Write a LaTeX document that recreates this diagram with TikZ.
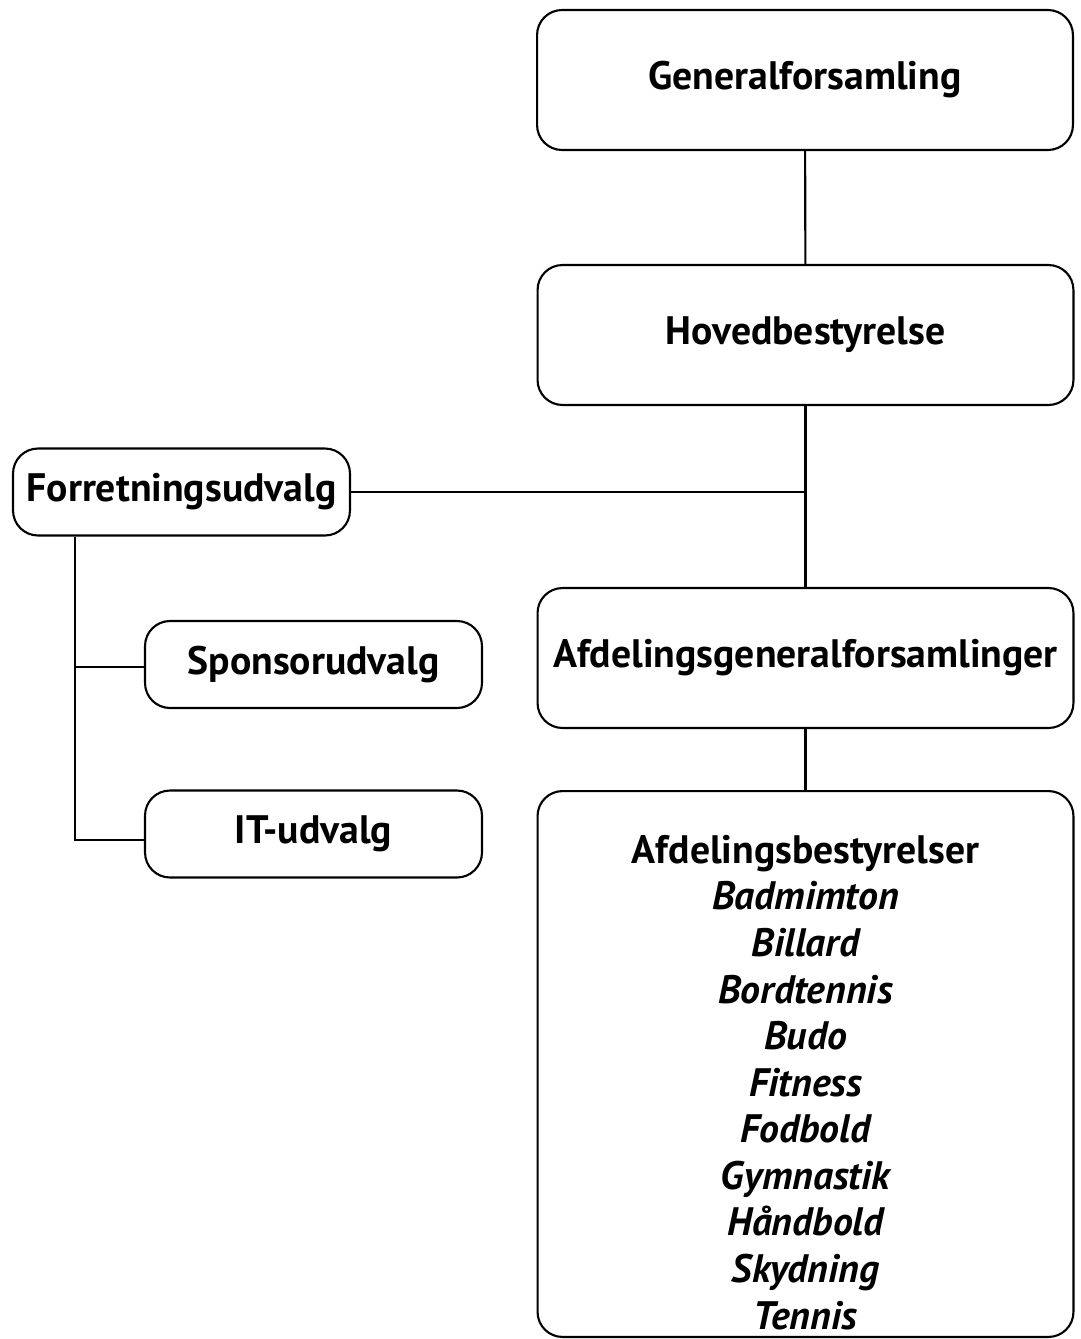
\documentclass[tikz,border=0pt]{standalone}
\usepackage{fontspec}
\setmainfont{PT Sans}
\usepackage{tikz}
\usetikzlibrary{positioning}

\tikzset{
    orgbox/.style={draw, line width=1.2pt, rounded corners=0.5cm, align=center,
        font=\bfseries\fontsize{22.6}{26.5}\selectfont, inner sep=0pt},
    bigbox/.style={orgbox, minimum width=10.72cm, minimum height=2.8cm},
    smallbox/.style={orgbox, minimum width=6.74cm, minimum height=1.74cm},
    link/.style={line width=1.2pt}
}

\begin{document}
\begin{tikzpicture}[x=0.02cm, y=-0.02cm]
    \useasboundingbox (0,0) rectangle (1080,1339);

    \node[bigbox] (genfors) at (805,80) {Generalforsamling};
    \node[bigbox] (hovbest) at (805.5,335) {Hovedbestyrelse};
    \node[bigbox] (afdgen) at (805.5,658) {Afdelingsgeneralforsamlinger};
    \node[bigbox, minimum height=10.92cm] (afdbest) at (805.5,1064)
        {\rule{0pt}{1.3cm}Afdelingsbestyrelser\\ \itshape Badmimton\\ \itshape Billard\\
         \itshape Bordtennis\\ \itshape Budo\\ \itshape Fitness\\
         \itshape Fodbold\\ \itshape Gymnastik\\ \itshape Håndbold\\
         \itshape Skydning\\ \itshape Tennis};

    \node[smallbox] (forret) at (181.5,492) {Forretningsudvalg};
    \node[smallbox] (sponsor) at (313.5,664.5) {Sponsorudvalg};
    \node[smallbox] (itudv) at (313.5,834) {IT-udvalg};

    \coordinate (knude) at (805.5,492);
    \coordinate (venstre) at (75,667);
    \coordinate (venstre2) at (75,840);

    \draw[link] (genfors) -- (hovbest);
    \draw[link] (hovbest) -- (afdgen);
    \draw[link] (afdgen) -- (afdbest);
    \draw[link] (forret.east) -- (knude);
    \draw[link] (forret.south -| venstre) -- (venstre2) -- (venstre2 -| itudv.west);
    \draw[link] (venstre) -- (sponsor.west |- venstre);
\end{tikzpicture}
\end{document}
